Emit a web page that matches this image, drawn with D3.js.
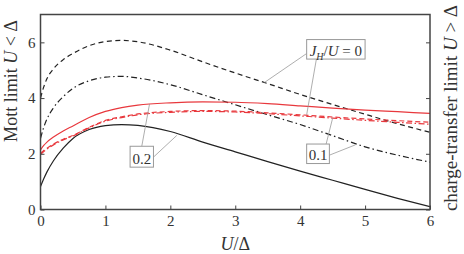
<!DOCTYPE html>
<html>
<head>
<meta charset="utf-8">
<script src="https://cdn.jsdelivr.net/npm/d3@7/dist/d3.min.js"></script>
<style>
  body { margin: 0; background: #fff; }
  svg text { font-family: 'Liberation Serif', 'Times New Roman', Times, 'DejaVu Serif', 'Noto Serif', serif; fill: #333; }
</style>
</head>
<body>
<div id="chart"></div>
<script>
// U/Delta sample points
const uValues = [0, 0.05, 0.1, 0.2, 0.35, 0.5, 0.75, 1, 1.25, 1.5, 2, 2.5, 3, 3.5, 4, 4.5, 5, 5.5, 6];

// black curves (Mott limit, U < Delta)
const mottJ0 = [4.0, 4.4, 4.7, 5.05, 5.38, 5.6, 5.88, 6.03, 6.07, 6.02, 5.72, 5.3, 4.9, 4.52, 4.13, 3.77, 3.42, 3.08, 2.77];
const mottJ01 = [2.55, 2.95, 3.25, 3.65, 4.05, 4.35, 4.62, 4.75, 4.78, 4.72, 4.48, 4.12, 3.76, 3.4, 3.05, 2.65, 2.25, 1.95, 1.7];
const mottJ02 = [0.82, 1.1, 1.35, 1.75, 2.2, 2.55, 2.87, 3.01, 3.05, 3.02, 2.8, 2.42, 2.07, 1.72, 1.38, 1.05, 0.72, 0.4, 0.1];

// red curves (charge-transfer limit, U > Delta)
const ctJ0 = [2.02, 2.12, 2.2, 2.35, 2.52, 2.66, 2.95, 3.2, 3.33, 3.43, 3.52, 3.55, 3.53, 3.47, 3.4, 3.32, 3.25, 3.19, 3.13];
const ctJ01 = [1.98, 2.08, 2.17, 2.32, 2.5, 2.64, 2.93, 3.17, 3.3, 3.4, 3.49, 3.52, 3.5, 3.44, 3.36, 3.28, 3.2, 3.13, 3.06];
const ctJ02 = [2.14, 2.3, 2.42, 2.6, 2.82, 3.0, 3.3, 3.52, 3.66, 3.75, 3.83, 3.86, 3.85, 3.8, 3.72, 3.64, 3.57, 3.51, 3.45];

const xTicks = [0, 1, 2, 3, 4, 5, 6];
const yTicks = [0, 2, 4, 6];

const FONT = "'Liberation Serif', 'Times New Roman', Times, 'DejaVu Serif', 'Noto Serif', serif";

const W = 464, H = 254;
const margin = { top: 14.5, right: 34, bottom: 44.5, left: 40.5 };
const width = W - margin.left - margin.right;
const height = H - margin.top - margin.bottom;

const svg = d3.select('#chart').append('svg')
  .attr('width', W)
  .attr('height', H)
  .style('font-family', FONT);

const g = svg.append('g')
  .attr('transform', `translate(${margin.left},${margin.top})`);

const x = d3.scaleLinear().domain([0, 6]).range([0, width]);
const y = d3.scaleLinear().domain([0, 7]).range([height, 0]);

const black = '#222';
const red = '#e8383d';

const series = [
  { values: mottJ0, color: black, dash: '5,3.5' },
  { values: mottJ01, color: black, dash: '6,3,1.5,3' },
  { values: mottJ02, color: black, dash: null },
  { values: ctJ0, color: red, dash: '5,3' },
  { values: ctJ01, color: red, dash: '6,2.5,1.5,2.5' },
  { values: ctJ02, color: red, dash: null }
];

const line = d3.line()
  .x(d => x(d[0]))
  .y(d => y(d[1]))
  .curve(d3.curveMonotoneX);

g.append('defs').append('clipPath').attr('id', 'clip')
  .append('rect').attr('width', width).attr('height', height);

g.append('g').attr('clip-path', 'url(#clip)')
  .selectAll('path.curve')
  .data(series)
  .enter().append('path')
  .attr('class', 'curve')
  .attr('d', s => line(uValues.map((u, i) => [u, s.values[i]])))
  .attr('fill', 'none')
  .attr('stroke', s => s.color)
  .attr('stroke-width', 1.2)
  .attr('stroke-dasharray', s => s.dash);

// axes with inward ticks
const axisStyle = sel => {
  sel.attr('font-family', null);
  sel.select('.domain').remove();
  sel.selectAll('.tick line').attr('stroke', '#444').attr('stroke-width', 1);
  sel.selectAll('.tick text')
    .style('font-family', FONT)
    .style('font-size', '15px')
    .attr('fill', '#333');
};

g.append('g')
  .attr('transform', `translate(0,${height})`)
  .call(d3.axisBottom(x).tickValues(xTicks).tickSize(-4).tickPadding(6).tickFormat(d3.format('d')))
  .call(axisStyle);

g.append('g')
  .call(d3.axisLeft(y).tickValues(yTicks).tickSize(-4).tickPadding(5).tickFormat(d3.format('d')))
  .call(axisStyle);

g.append('g')
  .attr('transform', `translate(${width},0)`)
  .call(d3.axisRight(y).tickValues(yTicks).tickSize(-4).tickFormat(''))
  .call(axisStyle);

g.append('rect')
  .attr('width', width)
  .attr('height', height)
  .attr('fill', 'none')
  .attr('stroke', '#444')
  .attr('stroke-width', 1.5);

// axis titles
const xl = svg.append('text')
  .attr('x', margin.left + width / 2)
  .attr('y', 250)
  .attr('text-anchor', 'middle')
  .style('font-size', '18px');
xl.append('tspan').style('font-style', 'italic').text('U');
xl.append('tspan').text('/Δ');

const yl = svg.append('text')
  .attr('transform', 'translate(17,81) rotate(-90)')
  .attr('text-anchor', 'middle')
  .style('font-size', '18px');
yl.append('tspan').text('Mott limit ');
yl.append('tspan').style('font-style', 'italic').text('U');
yl.append('tspan').text(' < Δ');

const yr = svg.append('text')
  .attr('transform', 'translate(457,108) rotate(-90)')
  .attr('text-anchor', 'middle')
  .style('font-size', '19px');
yr.append('tspan').text('charge-transfer limit ');
yr.append('tspan').style('font-style', 'italic').text('U');
yr.append('tspan').text(' > Δ');

// annotation boxes with leader lines (positions in data units)
const notes = [
  { box: [4.1, 6.1, 5.0, 5.4], leaders: [[4.1, 5.6, 3.45, 4.56], [4.25, 5.4, 4.1, 3.4]] },
  { box: [4.1, 2.35, 4.45, 1.65], leaders: [[4.4, 2.35, 4.5, 3.28], [4.45, 1.95, 4.85, 2.32]] },
  { box: [1.38, 2.27, 1.74, 1.52], leaders: [[1.56, 2.27, 1.68, 3.79], [1.74, 1.88, 2.1, 2.66]] }
];

const ann = g.append('g');
notes.forEach(n => {
  n.leaders.forEach(l => {
    ann.append('line')
      .attr('x1', x(l[0])).attr('y1', y(l[1]))
      .attr('x2', x(l[2])).attr('y2', y(l[3]))
      .attr('stroke', '#999').attr('stroke-width', 0.8);
  });
  ann.append('rect')
    .attr('x', x(n.box[0])).attr('y', y(n.box[1]))
    .attr('width', x(n.box[2]) - x(n.box[0]))
    .attr('height', y(n.box[3]) - y(n.box[1]))
    .attr('fill', '#fff').attr('stroke', '#999').attr('stroke-width', 1);
});

const t0 = ann.append('text')
  .attr('x', (x(4.1) + x(5.0)) / 2).attr('y', y(5.5))
  .attr('text-anchor', 'middle')
  .style('font-size', '15px');
t0.append('tspan').style('font-style', 'italic').text('J');
t0.append('tspan').style('font-style', 'italic').style('font-size', '10px').attr('dy', 4).text('H');
t0.append('tspan').attr('dy', -4).text('/');
t0.append('tspan').style('font-style', 'italic').text('U');
t0.append('tspan').text(' = 0');

ann.append('text')
  .attr('x', (x(4.1) + x(4.45)) / 2).attr('y', y(1.76))
  .attr('text-anchor', 'middle')
  .style('font-size', '15px')
  .text('0.1');

ann.append('text')
  .attr('x', (x(1.38) + x(1.74)) / 2).attr('y', y(1.63))
  .attr('text-anchor', 'middle')
  .style('font-size', '15px')
  .text('0.2');
</script>
</body>
</html>
